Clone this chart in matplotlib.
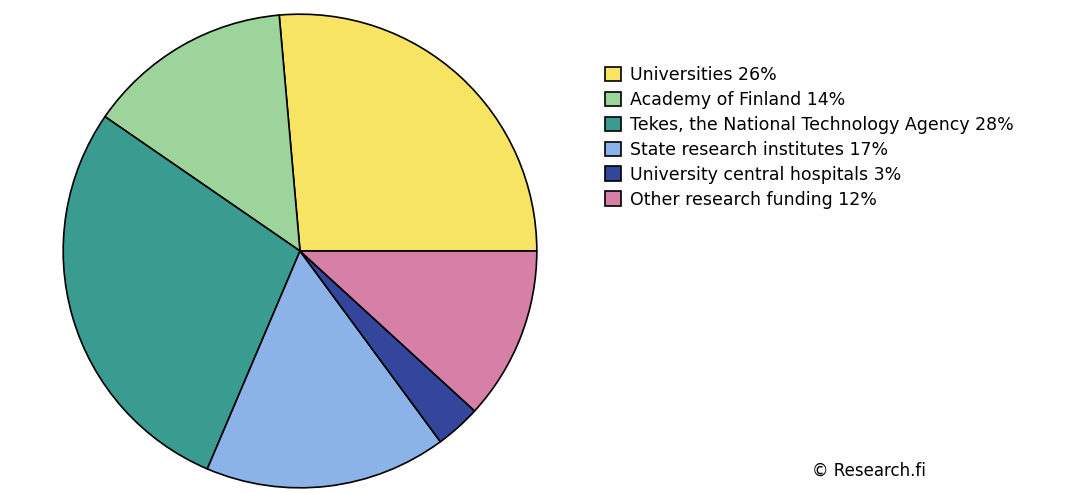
import matplotlib.pyplot as plt
from matplotlib.patches import Patch

# parts de financement (angles, pourcentages affichés arrondis)
labels = ['Universities', 'Academy of Finland', 'Tekes, the National Technology Agency',
          'State research institutes', 'University central hospitals', 'Other research funding']
shares = [26.4, 14.0, 28.2, 16.5, 3.1, 11.8]
shown_pct = [26, 14, 28, 17, 3, 12]
colors = ['#f7e463', '#9dd49b', '#3a9b91', '#8bb3e8', '#34469b', '#d680a8']

W, H = 1065, 493
fig = plt.figure(figsize=(W / 100, H / 100), dpi=100)

# camembert : centre (300, 251), rayon 238 px
cx, cy, r = 300, 251, 238
ax = fig.add_axes([(cx - r) / W, (H - cy - r) / H, 2 * r / W, 2 * r / H])
ax.pie(shares, colors=colors, startangle=0, counterclock=True,
       wedgeprops=dict(edgecolor='black', linewidth=1.2))
ax.set_xlim(-1.005, 1.005)
ax.set_ylim(-1.005, 1.005)
ax.set_aspect('equal')

handles = [Patch(facecolor=c, edgecolor='black', linewidth=1.2) for c in colors]
legend_labels = [f'{l} {p}%' for l, p in zip(labels, shown_pct)]
fig.legend(handles, legend_labels, loc='upper left',
           bbox_to_anchor=(605 / W, 1 - 66 / H), frameon=False,
           fontsize=12.5, handlelength=0.92, handleheight=0.92,
           handletextpad=0.5, labelspacing=0.4, borderpad=0, borderaxespad=0)

fig.text(812 / W, 1 - 471 / H, '© Research.fi', fontsize=12, va='center', ha='left')

fig.savefig('out.png', dpi=100)
